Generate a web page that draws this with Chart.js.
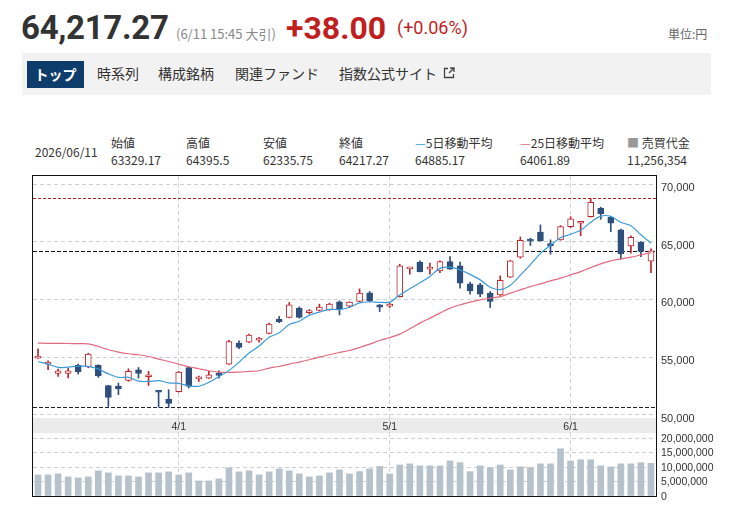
<!DOCTYPE html>
<html><head><meta charset="utf-8">
<script src="https://cdn.jsdelivr.net/npm/chart.js@4.4.1/dist/chart.umd.min.js"></script>
<style>
html,body{margin:0;padding:0;background:#fff}
body{width:736px;height:515px;overflow:hidden;position:relative;font-family:"Noto Sans CJK JP","Noto Sans",sans-serif;color:#333}
.a{position:absolute;white-space:nowrap;line-height:1}
#tabbar{position:absolute;left:22px;top:53px;width:689px;height:42px;background:#f2f2f2}
.tab{position:absolute;top:66px;font-size:14px;line-height:1;color:#333;white-space:nowrap}
#tabOn{position:absolute;left:27px;top:61px;width:57px;height:27px;background:#0f3d6b;color:#fff;font-weight:700;font-size:14px;line-height:27px;text-align:center}
.lab{position:absolute;top:137px;font-size:12px;line-height:1;color:#333;white-space:nowrap}
.val{position:absolute;top:154px;font-size:12px;line-height:1;color:#333;white-space:nowrap}
#frame{position:absolute;left:32px;top:175px;width:625px;height:322px;box-sizing:border-box;border:1px solid #111;pointer-events:none;z-index:5}
#wA{position:absolute;left:33px;top:176px;width:703px;height:257px}
#wB{position:absolute;left:33px;top:433px;width:703px;height:80px}
</style>
</head><body>

<div class="a" style="left:21px;top:8px;font:700 33px Roboto,'Liberation Sans',sans-serif;color:#333;letter-spacing:-0.3px">64,217.27</div>
<div class="a" style="left:176px;top:24px;font:13px 'Noto Sans CJK JP',sans-serif;color:#888">(6/11 15:45 大引)</div>
<div class="a" style="left:286px;top:9px;font:700 32px Roboto,'Liberation Sans',sans-serif;color:#c01f1f">+38.00</div>
<div class="a" style="left:397px;top:17px;font:18px Roboto,'Liberation Sans',sans-serif;color:#c01f1f">(+0.06%)</div>
<div class="a" style="left:668px;top:25px;font:12px 'Noto Sans CJK JP',sans-serif;color:#666">単位:円</div>

<div id="tabbar"></div>
<div id="tabOn">トップ</div>
<div class="tab" style="left:97px">時系列</div>
<div class="tab" style="left:158px">構成銘柄</div>
<div class="tab" style="left:235px">関連ファンド</div>
<div class="tab" style="left:339px">指数公式サイト</div>
<svg style="position:absolute;left:443px;top:67px" width="12" height="12" viewBox="0 0 12 12"><path d="M5 1.5H1.5V10.5H10.5V7" fill="none" stroke="#444" stroke-width="1.3"/><path d="M6 6L11 1M7 1H11V5" fill="none" stroke="#444" stroke-width="1.3"/></svg>

<div class="a" style="left:35px;top:146px;font-size:12px">2026/06/11</div>
<div class="lab" style="left:111px">始値</div><div class="val" style="left:111px">63329.17</div>
<div class="lab" style="left:186px">高値</div><div class="val" style="left:186px">64395.5</div>
<div class="lab" style="left:263px">安値</div><div class="val" style="left:263px">62335.75</div>
<div class="lab" style="left:339px">終値</div><div class="val" style="left:339px">64217.27</div>
<div class="lab" style="left:415px"><span style="color:#3b9bd8">—</span>5日移動平均</div><div class="val" style="left:415px">64885.17</div>
<div class="lab" style="left:520px"><span style="color:#e26a80">—</span>25日移動平均</div><div class="val" style="left:520px">64061.89</div>
<div class="lab" style="left:627px"><span style="color:#999">■</span> 売買代金</div><div class="val" style="left:627px">11,256,354</div>

<div id="wA"><canvas id="cA"></canvas></div>
<div id="wB"><canvas id="cB"></canvas></div>
<div id="frame"></div>

<script>
const dates = ["3/11","3/12","3/13","3/16","3/17","3/18","3/19","3/23","3/24","3/25","3/26","3/27","3/30","3/31",
"4/1","4/2","4/3","4/6","4/7","4/8","4/9","4/10","4/13","4/14","4/15","4/16","4/17","4/20","4/21","4/22","4/23","4/24","4/27","4/28","4/30",
"5/1","5/7","5/8","5/11","5/12","5/13","5/14","5/15","5/18","5/19","5/20","5/21","5/22","5/25","5/26","5/27","5/28","5/29",
"6/1","6/2","6/3","6/4","6/5","6/8","6/9","6/10","6/11"];

const opens  = [54900,54380,53570,53570,54270,54130,54270,52510,52480,52970,53890,53290,52070,51350,
51990,54090,53100,53170,53570,54390,56210,56300,56470,57040,58290,58430,59250,58850,59040,59100,59790,59420,59820,60570,59530,
59420,60250,62660,63240,62640,62480,63290,62910,61350,61270,60550,60400,61930,63670,65230,65840,64800,65170,
66320,66620,67190,67920,67140,66040,64650,64970,63329.17];
const highs  = [55720,54680,53950,54010,54390,55330,54330,52540,52740,53980,54090,53750,52070,52160,
53750,54150,53350,53750,53810,56440,56410,56990,56700,57950,58520,59730,59360,59120,59590,59680,59880,59800,60920,60690,59560,
59680,63060,62740,63350,63150,63350,63720,63240,61500,61410,60690,62050,63390,65430,65320,66470,65170,66410,
67190,66760,68786,68010,67150,66120,65520,65020,64395.5];
const lows   = [54880,53900,53310,53180,53520,54070,53230,50710,51730,52900,53170,52530,50650,50625,
51950,52310,52880,53150,53170,54350,55720,56250,56300,57000,57990,58400,58380,58720,59000,59060,58660,59300,59800,59770,58950,
59300,60200,62190,62400,62190,62330,62600,60980,60460,60250,59300,60350,61900,63580,64680,65050,63930,65150,
66240,65540,67150,66960,65890,63500,64020,63720,62335.75];
const closes = [54980,54440,53810,53810,53700,55260,53350,51490,52220,53750,53570,53370,51940,50970,
53700,52450,53200,53460,53400,56350,55830,56900,56540,57860,58060,59530,58430,58900,59330,59590,59160,59770,60550,59880,59330,
59500,62910,62720,62420,62720,63290,62630,61410,60750,60460,59820,61670,63350,65140,65060,65080,64680,66320,
66990,66760,68440,67450,66620,63980,65400,64179.27,64217.27];

const ma5  = [54588,54389,54094,54128,54200,54190,53960,53540,53230,53240,52910,52880,52950,52760,
52710,52500,52460,52800,53300,53820,54550,55350,55950,56720,57100,57820,58110,58620,58900,59130,59120,59320,59700,59800,59750,
59770,60390,60920,61450,62000,62700,62800,62560,62180,61700,61060,60860,61240,62110,63030,64000,64700,65350,
65660,66000,66700,67230,67220,66700,66390,65620,64885.17];
const ma25 = [56210,56190,56190,56175,56165,56149,55915,55629,55429,55282,55195,55048,54822,54614,
54389,54154,53981,53807,53695,53660,53695,53747,53807,54042,54180,54389,54562,54761,54996,55195,55395,55568,55828,56123,56435,
56696,56990,57450,57945,58378,58812,59245,59532,59766,59965,60113,60252,60546,60833,61119,61353,61613,61847,
62134,62420,62767,63088,63348,63521,63669,63868,64061.89];

const volumes = [7280000,7280000,7630000,6590000,6240000,6590000,8670000,7970000,6930000,6930000,6590000,7970000,7970000,8320000,
7280000,7970000,5200000,5200000,5890000,9710000,8320000,8670000,7280000,8320000,9360000,8670000,7630000,6590000,6930000,7970000,9010000,7630000,8400000,9360000,10200000,
7630000,10700000,11100000,10400000,10400000,10400000,12100000,11500000,8400000,10400000,9800000,10700000,9000000,10050000,9800000,11100000,11100000,16300000,
12100000,12500000,12500000,10400000,10050000,11100000,11100000,11500000,11256354];

const priceTicks = [50000,55000,60000,65000,70000];
const volumeTicks = [0,5000000,10000000,15000000,20000000];
const lastClose = 64217.27;

const UP = '#b8282e', DOWN = '#2e4f7c', MA5C = '#3b9bd8', MA25C = '#e26a80', VOLC = '#b6c2cb';
const GRID = '#cfcfcf';
const isMonth = i => dates[i] && dates[i].split('/')[1] === '1';
const isUp = i => closes[i] >= opens[i];
const fmt = v => v.toLocaleString('en-US');

const bandPlugin = {
  id: 'band',
  beforeDraw(chart) {
    const {ctx, chartArea: a} = chart;
    ctx.save();
    ctx.fillStyle = '#ebebeb';
    ctx.fillRect(a.left, a.bottom, a.right - a.left, 15);
    ctx.restore();
  }
};
const refLines = {
  id: 'refLines',
  beforeDatasetsDraw(chart) {
    const {ctx, chartArea: a, scales: {y}} = chart;
    const hi = Math.max(...highs), lo = Math.min(...lows);
    const lines = [[hi, '#b22222', [3,2]], [lastClose, '#111', [4,2]], [lo, '#223', [4,2]]];
    ctx.save();
    ctx.lineWidth = 1;
    lines.forEach(([v, c, d]) => {
      const py = Math.round(y.getPixelForValue(v)) + 0.5;
      ctx.strokeStyle = c; ctx.setLineDash(d);
      ctx.beginPath(); ctx.moveTo(a.left, py); ctx.lineTo(a.right, py); ctx.stroke();
    });
    ctx.restore();
  }
};

const fitY = s => { s.width = 80; s.paddingTop = 0; s.paddingBottom = 0; };
const tickFont = {family: "'Liberation Sans', Arial, sans-serif", size: 11};

new Chart(document.getElementById('cA'), {
  type: 'bar',
  data: {
    labels: dates,
    datasets: [
      {type:'line', data: ma5, borderColor: MA5C, borderWidth: 1.2, pointRadius: 0, tension: 0.3, order: 0},
      {type:'line', data: ma25, borderColor: MA25C, borderWidth: 1.2, pointRadius: 0, tension: 0.3, order: 0},
      {data: opens.map((o,i)=>[o, closes[i]]), grouped:false, barThickness: 6, minBarLength: 2,
        backgroundColor: opens.map((o,i)=> isUp(i) ? '#ffffff' : DOWN),
        borderColor: opens.map((o,i)=> isUp(i) ? UP : DOWN), borderWidth: 1, borderSkipped: false, order: 1},
      {data: lows.map((l,i)=>[l, highs[i]]), grouped:false, barThickness: 1,
        backgroundColor: lows.map((l,i)=> isUp(i) ? UP : DOWN), borderWidth: 0, order: 2}
    ]
  },
  options: {
    responsive: true, maintainAspectRatio: false, animation: false,
    layout: {padding: 0},
    plugins: {legend: {display:false}, tooltip: {enabled:false}},
    scales: {
      x: {
        offset: true,
        grid: {offset: false, color: c => isMonth(c.index) ? GRID : 'rgba(0,0,0,0)', tickColor: c => isMonth(c.index) ? GRID : 'rgba(0,0,0,0)', tickLength: 15, tickBorderDash: [4,3], drawTicks: true},
        border: {display: false, dash: [4,3]},
        ticks: {autoSkip: false, maxRotation: 0, padding: -12, color: '#333', font: {family: tickFont.family, size: 10.5},
          callback: (v, i) => isMonth(i) ? dates[i] : ''},
        afterFit: s => { s.height = 15; s.paddingLeft = 0; s.paddingRight = 0; }
      },
      y: {
        position: 'right', min: 49705, max: 70720,
        afterBuildTicks: s => { s.ticks = priceTicks.map(v => ({value: v})); },
        grid: {color: GRID, drawTicks: false},
        border: {display: false, dash: [4,3]},
        ticks: {autoSkip: false, padding: 5, labelOffset: 4, color: '#333', font: tickFont, callback: v => fmt(v)},
        afterFit: fitY
      }
    }
  },
  plugins: [bandPlugin, refLines]
});

new Chart(document.getElementById('cB'), {
  type: 'bar',
  data: {
    labels: dates,
    datasets: [{data: volumes, backgroundColor: VOLC, barThickness: 6}]
  },
  options: {
    responsive: true, maintainAspectRatio: false, animation: false,
    layout: {padding: {bottom: 17}},
    plugins: {legend: {display:false}, tooltip: {enabled:false}},
    scales: {
      x: {
        offset: true,
        grid: {offset: false, color: c => isMonth(c.index) ? GRID : 'rgba(0,0,0,0)', drawTicks: false},
        border: {display: false, dash: [4,3]},
        ticks: {display: false, autoSkip: false},
        afterFit: s => { s.height = 0; s.paddingLeft = 0; s.paddingRight = 0; }
      },
      y: {
        position: 'right', min: 0, max: 21730000,
        afterBuildTicks: s => { s.ticks = volumeTicks.map(v => ({value: v})); },
        grid: {color: GRID, drawTicks: false},
        border: {display: false, dash: [4,3]},
        ticks: {autoSkip: false, padding: 5, labelOffset: 1, color: '#333', font: {family: tickFont.family, size: 10.5}, callback: v => fmt(v)},
        afterFit: fitY
      }
    }
  }
});
</script>
</body></html>
